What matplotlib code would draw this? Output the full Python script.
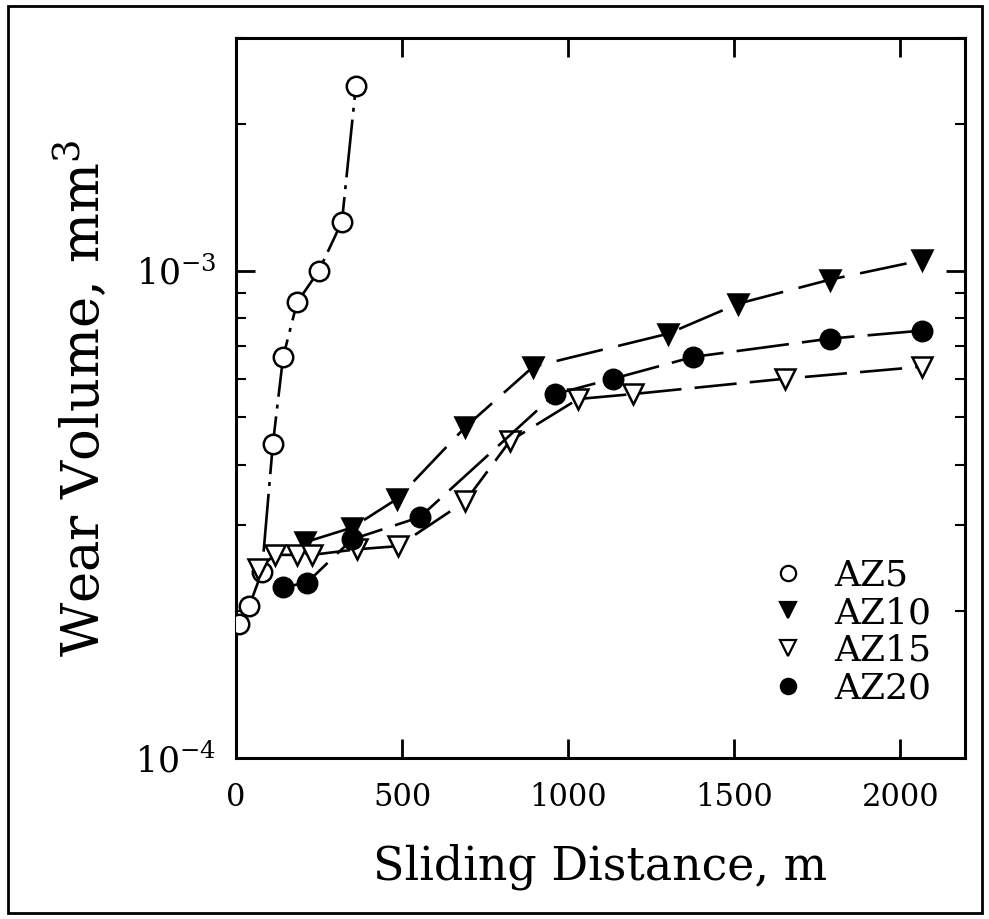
# wear volume vs sliding distance for AZ5..AZ20
# log y axis, slab-serif text to look like the scanned figure

import matplotlib
matplotlib.use("Agg")
import matplotlib.pyplot as plt
from matplotlib.lines import Line2D
from matplotlib.ticker import FixedLocator, FixedFormatter, LogLocator, NullFormatter
from matplotlib.patches import Rectangle

FONT = "DejaVu Serif"
plt.rcParams["font.family"] = [FONT, "DejaVu Sans"]
plt.rcParams["mathtext.default"] = "regular"

# data (x in m, y in mm^3)
az5_x = [8, 40, 78, 111, 142, 184, 250, 319, 361]
az5_y = [1.88e-4, 2.05e-4, 2.41e-4, 4.4e-4, 6.65e-4, 8.6e-4, 1.0e-3, 1.26e-3, 2.39e-3]

az10_x = [208, 350, 485, 690, 895, 1301, 1512, 1789, 2066]
az10_y = [2.77e-4, 2.97e-4, 3.40e-4, 4.77e-4, 6.35e-4, 7.42e-4, 8.55e-4, 9.58e-4, 1.05e-3]

az15_x = [66, 117, 184, 229, 364, 488, 690, 825, 1030, 1196, 1654, 2066]
az15_y = [2.44e-4, 2.61e-4, 2.61e-4, 2.61e-4, 2.68e-4, 2.72e-4, 3.36e-4, 4.47e-4,
          5.45e-4, 5.58e-4, 6.0e-4, 6.35e-4]

az20_x = [142, 214, 350, 554, 961, 1136, 1377, 1789, 2066]
az20_y = [2.24e-4, 2.29e-4, 2.81e-4, 3.12e-4, 5.58e-4, 6.0e-4, 6.65e-4, 7.25e-4, 7.53e-4]

labels = ["AZ5", "AZ10", "AZ15", "AZ20"]
x_ticks = [0, 500, 1000, 1500, 2000]
y_ticks = [1e-4, 1e-3]
y_tick_labels = [r"$10^{-4}$", r"$10^{-3}$"]

fig = plt.figure(figsize=(9.89, 9.19), dpi=100)
ax = fig.add_axes([0.2386, 0.1752, 0.7371, 0.7835])

# outer frame round the whole figure
fig.patches.append(Rectangle((0.008, 0.006), 0.985, 0.988, transform=fig.transFigure,
                             fill=False, lw=2.0, ec="black"))

lw = 1.9
ms = 14
styles = [
    dict(marker="o", mfc="white", ls=(0, (22, 3, 1.5, 3))),
    dict(marker="v", mfc="black", ls=(0, (18, 6))),
    dict(marker="v", mfc="white", ls=(0, (16, 5))),
    dict(marker="o", mfc="black", ls=(0, (20, 5))),
]
series = [(az5_x, az5_y), (az10_x, az10_y), (az15_x, az15_y), (az20_x, az20_y)]

handles = []
for (xs, ys), st, lab in zip(series, styles, labels):
    ax.plot(xs, ys, color="black", lw=lw, ls=st["ls"], marker=st["marker"], ms=ms,
            mfc=st["mfc"], mec="black", mew=1.8, zorder=3)
    handles.append(Line2D([], [], ls="none", marker=st["marker"], ms=11,
                          mfc=st["mfc"], mec="black", mew=1.6, label=lab))

ax.set_yscale("log")
ax.set_xlim(0, 2195)
ax.set_ylim(1e-4, 3e-3)

ax.xaxis.set_major_locator(FixedLocator(x_ticks))
ax.yaxis.set_major_locator(FixedLocator(y_ticks))
ax.yaxis.set_major_formatter(FixedFormatter(y_tick_labels))
ax.yaxis.set_minor_locator(LogLocator(base=10, subs=range(2, 10)))
ax.yaxis.set_minor_formatter(NullFormatter())

ax.tick_params(which="major", direction="in", length=14, width=2,
               top=True, right=True, labelsize=22, pad=17)
ax.tick_params(axis="y", which="major", labelsize=25, pad=14)
ax.tick_params(which="minor", direction="in", length=7, width=1.5,
               top=True, right=True)
for s in ax.spines.values():
    s.set_linewidth(2.2)

ax.set_xlabel("Sliding Distance, m", fontsize=33, labelpad=22)
ax.set_ylabel("Wear Volume, mm$^3$", fontsize=38, labelpad=18)

ax.legend(handles=handles, loc="lower right", bbox_to_anchor=(0.999, 0.028),
          frameon=False, handlelength=0.8, handletextpad=0.9,
          labelspacing=0.1, fontsize=26)

fig.savefig("out.png", dpi=100)
